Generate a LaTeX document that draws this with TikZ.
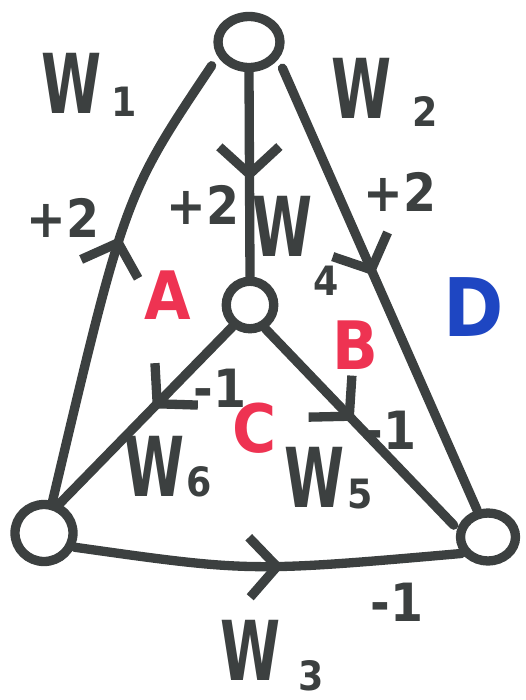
\documentclass[tikz,border=0pt]{standalone}
\usepackage{fontspec}
\usepackage{graphicx}
\setmainfont{DejaVu Sans Condensed}
\usetikzlibrary{decorations.markings,arrows.meta,shapes.geometric}
\definecolor{inkc}{HTML}{3C4040}
\definecolor{redc}{HTML}{EE3352}
\definecolor{bluec}{HTML}{1E46C2}
\newcommand{\narrowW}{\scalebox{0.82}[1.12]{W}}
\tikzset{
  barb/.tip={Straight Barb[length=0.55cm,width=1.2cm]},
  ink/.style={draw=inkc, line width=5.3pt, line cap=round},
  vert/.style={ellipse, draw=inkc, line width=5.3pt, inner sep=0pt},
  lbl/.style={text=inkc, font=\fontsize{42}{44}\selectfont\bfseries, inner sep=0pt},
  sublbl/.style={text=inkc, font=\fontsize{23}{25}\selectfont\bfseries, inner sep=0pt},
  numlbl/.style={text=inkc, font=\fontsize{30}{32}\selectfont\bfseries, inner sep=0pt},
  facered/.style={text=redc, font=\fontsize{38}{40}\selectfont\bfseries, inner sep=0pt},
  faceblue/.style={text=bluec, font=\fontsize{46}{48}\selectfont\bfseries, inner sep=0pt},
  fwd/.style={decoration={markings, mark=at position #1 with {\arrow{barb}}}, postaction={decorate}},
  bwd/.style={decoration={markings, mark=at position #1 with {\arrowreversed{barb}}}, postaction={decorate}}
}
\begin{document}
\begin{tikzpicture}[x=0.02cm,y=-0.02cm]
\useasboundingbox (0,0) rectangle (525,700);
% vertices
\node[vert, minimum width=1.24cm, minimum height=1.02cm] (top) at (249,42) {};
\node[vert, minimum width=0.95cm, minimum height=0.95cm] (mid) at (250,305) {};
\node[vert, minimum width=1.16cm, minimum height=1.14cm] (bl) at (44,533) {};
\node[vert, minimum width=1.1cm, minimum height=0.96cm] (br) at (488,537) {};
% edges
\draw[ink, bwd=0.43, shorten <=0.22cm] (top.205) .. controls (125,195) .. (bl.75);
\draw[ink, fwd=0.53] (top.south) -- (mid.north);
\draw[ink, fwd=0.48, shorten <=0.2cm] (top.330) -- (br.112);
\draw[ink, fwd=0.46] (mid.231) -- (bl.62);
\draw[ink, fwd=0.46, shorten >=0.1cm] (mid.303) -- (br.165);
\draw[ink, fwd=0.54] (bl.335) .. controls (250,572) .. (br.212);
% labels
\node[lbl] (w1) at (72,83) {\narrowW};
\node[sublbl] (w1s) at (124,102) {1};
\node[lbl] (w2) at (362,88) {\narrowW};
\node[sublbl] (w2s) at (425,112) {2};
\node[lbl] (w4) at (283,226) {\narrowW};
\node[sublbl] (w4s) at (326,281) {4};
\node[lbl] (w6) at (155,466) {\narrowW};
\node[sublbl] (w6s) at (199,482) {6};
\node[lbl] (w5) at (315,477) {\narrowW};
\node[sublbl] (w5s) at (360,494) {5};
\node[lbl] (w3) at (251,650) {\narrowW};
\node[sublbl] (w3s) at (311,676) {3};
\node[numlbl] (p1) at (63,218) {+2};
\node[numlbl] (p2) at (203,205) {+2};
\node[numlbl] (p3) at (400,192) {+2};
\node[numlbl] (m1) at (220,388) {-1};
\node[numlbl] (m2) at (390,430) {-1};
\node[numlbl] (m3) at (397,602) {-1};
\node[facered] (fa) at (168,295) {A};
\node[facered] (fb) at (355,345) {B};
\node[facered] (fc) at (255,428) {C};
\node[faceblue] (fd) at (474,307) {D};
\end{tikzpicture}
\end{document}
